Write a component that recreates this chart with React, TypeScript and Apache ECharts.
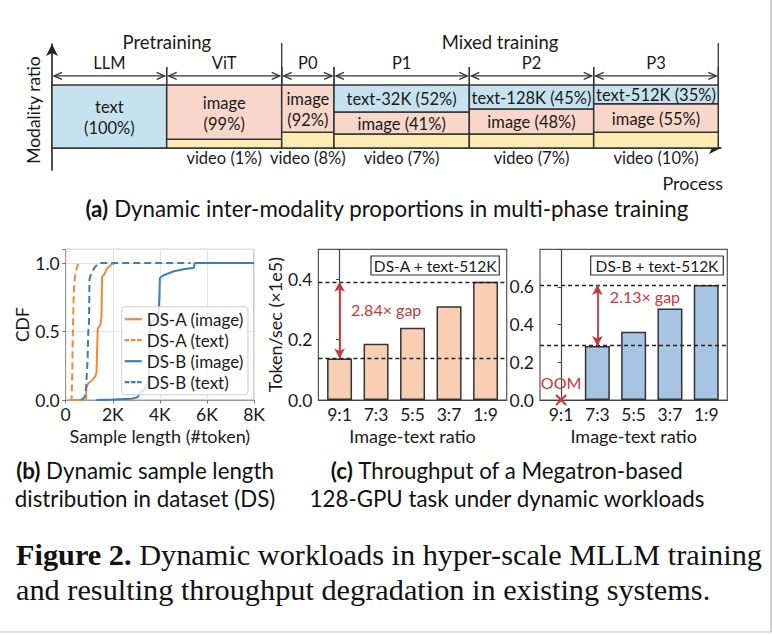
import React, { useEffect, useRef } from 'react';
import * as echarts from 'echarts';

// ---------- Panel (a): multi-phase modality proportions (schematic heights) ----------
const phases = ['LLM', 'ViT', 'P0', 'P1', 'P2', 'P3'];
const phaseWidths = [114.7, 115, 52.3, 135.3, 124.4, 124.6];
const textShare = [100, 0, 0, 43, 38, 30];
const imageShare = [0, 86, 75, 35, 40, 45];
const videoShare = [0, 14, 25, 22, 22, 25];
const textLabels = ['text\n(100%)', '', '', 'text-32K (52%)', 'text-128K (45%)', 'text-512K (35%)'];
const imageLabels = ['', 'image\n(99%)', 'image\n(92%)', 'image (41%)', 'image (48%)', 'image (55%)'];
const videoLabels = ['', 'video (1%)', 'video (8%)', 'video (7%)', 'video (7%)', 'video (10%)'];
const stageNames = ['Pretraining', 'Mixed training'];
const stageFirst = [0, 2];
const stageLast = [1, 5];

// ---------- Panel (b): CDF of sample length ----------
const cdfNames = ['DS-A (image)', 'DS-A (text)', 'DS-B (image)', 'DS-B (text)'];
const dsAImage = [[300, 0], [860, 0], [880, 0.09], [950, 0.12], [1100, 0.14], [1250, 0.17], [1310, 0.2], [1330, 0.33], [1360, 0.52], [1470, 0.55], [1520, 0.6], [1545, 0.9], [1650, 0.92], [1750, 0.96], [1950, 0.99], [2100, 1]];
const dsAText = [[150, 0], [250, 0], [280, 0.2], [300, 0.45], [330, 0.7], [360, 0.85], [420, 0.93], [480, 0.97], [560, 1]];
const dsBImage = [[1300, 0], [2000, 0.003], [2800, 0.01], [3050, 0.02], [3150, 0.05], [3350, 0.08], [3500, 0.13], [3550, 0.25], [3580, 0.5], [3620, 0.56], [3850, 0.6], [3950, 0.65], [3980, 0.75], [4000, 0.89], [4150, 0.91], [4600, 0.94], [5000, 0.955], [5450, 0.965], [5480, 1], [8000, 1]];
const dsBText = [[650, 0], [800, 0.02], [870, 0.1], [930, 0.3], [960, 0.5], [990, 0.56], [1010, 0.88], [1060, 0.91], [1200, 0.96], [1350, 0.99], [1420, 1], [5300, 1]];
const cdfXTicks = ['0', '2K', '4K', '6K', '8K'];

// ---------- Panel (c): throughput ----------
const ratios = ['9:1', '7:3', '5:5', '3:7', '1:9'];
const throughputA = [0.138, 0.187, 0.24, 0.311, 0.392];
const throughputB = [null, 0.286, 0.362, 0.486, 0.61];
const oomIndexB = 0;
const oomText = 'OOM';
const boxA = 'DS-A + text-512K';
const boxB = 'DS-B + text-512K';

const FONT = "Lato, 'Open Sans', sans-serif";
const SERIF = "'Liberation Serif', 'DejaVu Serif', serif";
const INK = '#1a1a1a';
const LINE = '#333';
const C_TEXT = '#c6e2ef';
const C_IMAGE = '#f8d6c9';
const C_VIDEO = '#fcebb3';
const ORANGE = '#ef8a3a';
const BLUE = '#3f7cba';
const PEACH = '#f8cfb3';
const LBLUE = '#a8c6e4';
const RED = '#c8373b';

const ICON_SOLID = 'path://M0,0H17V2.2H0Z';
const ICON_DASH = 'path://M0,0H4.6V2.2H0ZM6.2,0H10.8V2.2H6.2ZM12.4,0H17V2.2H12.4Z';

const starts: number[] = [];
phaseWidths.reduce((acc, w, i) => {
  starts[i] = acc;
  return acc + w;
}, 0);

function textEl(x: number, y: number, text: string, size: number, color = INK, align = 'center', extra: any = {}, rotation = 0) {
  return {
    type: 'text',
    x,
    y,
    rotation,
    style: {
      text,
      fill: color,
      fontSize: size,
      fontFamily: FONT,
      align,
      textAlign: align,
      verticalAlign: 'middle',
      textVerticalAlign: 'middle',
      lineHeight: 21,
      ...extra,
    },
  };
}

function lineEl(x1: number, y1: number, x2: number, y2: number, stroke = LINE, w = 1.4) {
  return { type: 'line', shape: { x1, y1, x2, y2 }, style: { stroke, lineWidth: w } };
}

function renderPhase(params: any, api: any) {
  const i = api.value(0);
  const x0 = starts[i];
  const x1 = x0 + phaseWidths[i];
  const b = api.coord([x0, 0]);
  const px0 = b[0];
  const pyBase = b[1];
  const px1 = api.coord([x1, 0])[0];
  const pyTop = api.coord([x0, 100])[1];
  const cx = (px0 + px1) / 2;
  const children: any[] = [];
  const segs = [
    { h: videoShare[i], fill: C_VIDEO, label: '' },
    { h: imageShare[i], fill: C_IMAGE, label: imageLabels[i] },
    { h: textShare[i], fill: C_TEXT, label: textLabels[i] },
  ];
  let cum = 0;
  for (const s of segs) {
    if (s.h <= 0) continue;
    const yb = api.coord([x0, cum])[1];
    const yt = api.coord([x0, cum + s.h])[1];
    children.push({
      type: 'rect',
      shape: { x: px0, y: yt, width: px1 - px0, height: yb - yt },
      style: { fill: s.fill, stroke: LINE, lineWidth: 1.5 },
    });
    if (s.label) children.push(textEl(cx, (yt + yb) / 2 + 1, s.label, 16.5));
    cum += s.h;
  }
  if (videoLabels[i]) children.push(textEl(cx, pyBase + 10, videoLabels[i], 16.5));
  children.push(textEl(cx, pyTop - 22, phases[i], 16.5));
  // dimension arrow
  const ay = pyTop - 9;
  const a0 = px0 + 2;
  const a1 = px1 - 2;
  children.push(lineEl(a0, ay, a1, ay, LINE, 1.3));
  children.push({ type: 'polyline', shape: { points: [[a0 + 8, ay - 3.5], [a0, ay], [a0 + 8, ay + 3.5]] }, style: { stroke: LINE, lineWidth: 1.3, fill: 'none' } });
  children.push({ type: 'polyline', shape: { points: [[a1 - 8, ay - 3.5], [a1, ay], [a1 - 8, ay + 3.5]] }, style: { stroke: LINE, lineWidth: 1.3, fill: 'none' } });
  if (i > 0) children.push(lineEl(px0, pyTop - 18, px0, pyTop, LINE, 1.3));
  children.push(lineEl(px1, pyTop - 18, px1, pyTop, LINE, 1.3));
  return { type: 'group', children };
}

function renderStage(params: any, api: any) {
  const g = api.value(0);
  const x0 = starts[stageFirst[g]];
  const x1 = starts[stageLast[g]] + phaseWidths[stageLast[g]];
  const px0 = api.coord([x0, 0])[0];
  const px1 = api.coord([x1, 0])[0];
  const pyTop = api.coord([x0, 100])[1];
  return {
    type: 'group',
    children: [
      textEl((px0 + px1) / 2, pyTop - 43, stageNames[g], 18.5),
      lineEl(px1, pyTop - 42, px1, pyTop, LINE, 1.3),
    ],
  };
}

function renderOOM(params: any, api: any) {
  const p = api.coord([api.value(0), api.value(1)]);
  const s = 5;
  return {
    type: 'group',
    children: [
      lineEl(p[0] - s, p[1] - s, p[0] + s, p[1] + s, RED, 2),
      lineEl(p[0] - s, p[1] + s, p[0] + s, p[1] - s, RED, 2),
      textEl(p[0], p[1] - 18, oomText, 16, RED),
    ],
  };
}

function ratioLabel(v: number) {
  const r = Math.round(v);
  return Math.abs(v - r) < 1e-6 && ratios[r] ? ratios[r] : '';
}

function buildOption(): any {
  const maxA = Math.max(...throughputA);
  const minA = Math.min(...throughputA);
  const validB = throughputB.filter((v) => v != null) as number[];
  const maxB = Math.max(...validB);
  const minB = Math.min(...validB);
  const gapA = (maxA / minA).toFixed(2) + '× gap';
  const gapB = (maxB / minB).toFixed(2) + '× gap';
  const firstB = throughputB.findIndex((v) => v != null);

  const tickLabel = { fontSize: 17.5, color: INK, fontFamily: FONT };
  const nameStyle = { fontSize: 18, color: INK, fontFamily: FONT };

  const barMarkLine = (mx: number, mn: number, xi: number) => ({
    silent: true,
    symbol: 'none',
    label: { show: false },
    lineStyle: { color: '#222', type: [4, 3], width: 1.3 },
    data: [
      { yAxis: mx },
      { yAxis: mn },
      [
        { coord: [xi, mx], symbol: 'arrow', symbolSize: [8, 10], lineStyle: { color: RED, type: 'solid', width: 1.8 } },
        { coord: [xi, mn], symbol: 'arrow', symbolSize: [8, 10] },
      ],
    ],
  });

  const caption = (x: number, y: number, text: string, align: string, size: number, lh: number, family: string) => ({
    type: 'text', x, y,
    style: {
      text, fill: '#111', fontSize: size, fontFamily: family, lineHeight: lh,
      align, verticalAlign: 'middle', textAlign: align, textVerticalAlign: 'middle',
      rich: { b: { fontWeight: 'bold', fontSize: size, fontFamily: family, fill: '#111', lineHeight: lh } },
    },
  });

  return {
    animation: false,
    backgroundColor: '#ffffff',
    textStyle: { fontFamily: FONT },
    grid: [
      { left: 52, top: 44, width: 669, height: 126 },
      { left: 65.7, top: 249.3, width: 188.3, height: 150.7, show: true, borderColor: '#9a9a9a', borderWidth: 1 },
      { left: 318.4, top: 249.3, width: 188.3, height: 150.7, show: true, borderColor: '#555', borderWidth: 1.2 },
      { left: 540, top: 249.3, width: 187.3, height: 150.7, show: true, borderColor: '#555', borderWidth: 1.2 },
    ],
    xAxis: [
      {
        type: 'value', gridIndex: 0, min: 0, max: 669,
        axisLine: { show: true, symbol: ['none', 'arrow'], symbolSize: [9, 12], lineStyle: { color: '#222', width: 1.6 } },
        axisTick: { show: false }, axisLabel: { show: false }, splitLine: { show: false },
      },
      {
        type: 'value', gridIndex: 1, min: 0, max: 8000, interval: 2000,
        axisLine: { lineStyle: { color: '#9a9a9a' } },
        axisTick: { show: true, length: 3.5, lineStyle: { color: '#777' } },
        axisLabel: { ...tickLabel, margin: 5, formatter: (v: number) => cdfXTicks[Math.round(v / 2000)] ?? '' },
        splitLine: { show: true, lineStyle: { color: '#e3e3e3' } },
        name: 'Sample length (#token)', nameLocation: 'middle', nameGap: 27, nameTextStyle: nameStyle,
      },
      {
        type: 'value', gridIndex: 2, min: -0.58, max: 4.58,
        axisLine: { lineStyle: { color: '#444', width: 1.2 } },
        axisTick: { show: false },
        axisLabel: { ...tickLabel, margin: 5, formatter: ratioLabel },
        splitLine: { show: false },
        name: 'Image-text ratio', nameLocation: 'middle', nameGap: 27, nameTextStyle: nameStyle,
      },
      {
        type: 'value', gridIndex: 3, min: -0.58, max: 4.58,
        axisLine: { lineStyle: { color: '#444', width: 1.2 } },
        axisTick: { show: false },
        axisLabel: { ...tickLabel, margin: 5, formatter: ratioLabel },
        splitLine: { show: false },
        name: 'Image-text ratio', nameLocation: 'middle', nameGap: 27, nameTextStyle: nameStyle,
      },
    ],
    yAxis: [
      {
        type: 'value', gridIndex: 0, min: -35, max: 165,
        axisLine: { show: true, symbol: ['none', 'arrow'], symbolSize: [9, 12], lineStyle: { color: '#222', width: 1.6 } },
        axisTick: { show: false }, axisLabel: { show: false }, splitLine: { show: false },
      },
      {
        type: 'value', gridIndex: 1, min: 0, max: 1.1, interval: 0.5,
        axisLine: { show: true, lineStyle: { color: '#9a9a9a' } },
        axisTick: { show: true, length: 3.5, lineStyle: { color: '#777' } },
        axisLabel: { ...tickLabel, margin: 6, formatter: (v: number) => (v > 1.05 ? '' : v.toFixed(1)) },
        splitLine: { show: true, lineStyle: { color: '#e3e3e3' } },
        name: 'CDF', nameLocation: 'middle', nameGap: 30, nameTextStyle: { ...nameStyle, fontSize: 17.5 },
      },
      {
        type: 'value', gridIndex: 2, min: 0, max: 0.5, interval: 0.2,
        axisLine: { show: true, lineStyle: { color: '#444', width: 1.2 } },
        axisTick: { show: true, length: 3.5, lineStyle: { color: '#444' } },
        axisLabel: { ...tickLabel, margin: 6, formatter: (v: number) => (v > 0.45 ? '' : v.toFixed(1)) },
        splitLine: { show: false },
        name: 'Token/sec (×1e5)', nameLocation: 'middle', nameGap: 30, nameTextStyle: nameStyle,
      },
      {
        type: 'value', gridIndex: 3, min: 0, max: 0.8, interval: 0.2,
        axisLine: { show: true, lineStyle: { color: '#444', width: 1.2 } },
        axisTick: { show: true, length: 3.5, lineStyle: { color: '#444' } },
        axisLabel: { ...tickLabel, margin: 6, formatter: (v: number) => (v > 0.7 ? '' : v.toFixed(1)) },
        splitLine: { show: false },
      },
    ],
    legend: {
      orient: 'vertical',
      left: 121.7,
      top: 306.7,
      padding: [4, 4, 4, 3],
      itemGap: 4,
      itemWidth: 17,
      itemHeight: 16,
      borderColor: '#cfcfcf',
      borderWidth: 1,
      borderRadius: 3,
      backgroundColor: 'rgba(255,255,255,0.8)',
      textStyle: { fontSize: 17, color: INK, fontFamily: FONT },
      data: [
        { name: cdfNames[0], icon: ICON_SOLID },
        { name: cdfNames[1], icon: ICON_DASH },
        { name: cdfNames[2], icon: ICON_SOLID },
        { name: cdfNames[3], icon: ICON_DASH },
      ],
    },
    series: [
      {
        type: 'custom', name: 'phases', xAxisIndex: 0, yAxisIndex: 0, clip: false, silent: true,
        renderItem: renderPhase,
        data: phases.map((_, i) => [i, 50]),
      },
      {
        type: 'custom', name: 'stages', xAxisIndex: 0, yAxisIndex: 0, clip: false, silent: true,
        renderItem: renderStage,
        data: stageNames.map((_, i) => [i, 50]),
      },
      { type: 'line', name: cdfNames[0], xAxisIndex: 1, yAxisIndex: 1, data: dsAImage, symbol: 'none', lineStyle: { color: ORANGE, width: 2 }, itemStyle: { color: ORANGE } },
      { type: 'line', name: cdfNames[1], xAxisIndex: 1, yAxisIndex: 1, data: dsAText, symbol: 'none', lineStyle: { color: ORANGE, width: 2, type: [7, 4] }, itemStyle: { color: ORANGE } },
      { type: 'line', name: cdfNames[2], xAxisIndex: 1, yAxisIndex: 1, data: dsBImage, symbol: 'none', lineStyle: { color: BLUE, width: 2 }, itemStyle: { color: BLUE } },
      { type: 'line', name: cdfNames[3], xAxisIndex: 1, yAxisIndex: 1, data: dsBText, symbol: 'none', lineStyle: { color: BLUE, width: 2, type: [7, 4] }, itemStyle: { color: BLUE } },
      {
        type: 'bar', name: 'A', xAxisIndex: 2, yAxisIndex: 2, barWidth: 25,
        data: throughputA.map((v, i) => [i, v]),
        itemStyle: { color: PEACH, borderColor: LINE, borderWidth: 1.5 },
        markLine: barMarkLine(maxA, minA, 0),
        markPoint: {
          symbol: 'circle', symbolSize: 1, itemStyle: { color: 'rgba(0,0,0,0)' },
          label: { show: true, position: 'right', distance: 11, formatter: gapA, color: RED, fontSize: 16, fontFamily: FONT },
          data: [{ coord: [0, minA + 0.645 * (maxA - minA)] }],
        },
      },
      {
        type: 'bar', name: 'B', xAxisIndex: 3, yAxisIndex: 3, barWidth: 25,
        data: throughputB.map((v, i) => [i, v]),
        itemStyle: { color: LBLUE, borderColor: LINE, borderWidth: 1.5 },
        markLine: barMarkLine(maxB, minB, firstB),
        markPoint: {
          symbol: 'circle', symbolSize: 1, itemStyle: { color: 'rgba(0,0,0,0)' },
          label: { show: true, position: 'right', distance: 12, formatter: gapB, color: RED, fontSize: 16, fontFamily: FONT },
          data: [{ coord: [firstB, minB + 0.82 * (maxB - minB)] }],
        },
      },
      {
        type: 'custom', name: 'OOM', xAxisIndex: 3, yAxisIndex: 3, clip: false, silent: true,
        renderItem: renderOOM,
        data: [[oomIndexB, 0]],
      },
    ],
    graphic: [
      textEl(33, 110, 'Modality ratio', 17.5, INK, 'center', {}, Math.PI / 2),
      textEl(723, 183, 'Process', 18, INK, 'right'),
      {
        type: 'group',
        children: [
          { type: 'rect', shape: { x: 371, y: 256, width: 128.3, height: 19 }, style: { fill: '#fff', stroke: LINE, lineWidth: 1.2 } },
          textEl(435.2, 266, boxA, 15.5),
          { type: 'rect', shape: { x: 590.7, y: 256, width: 132.6, height: 19 }, style: { fill: '#fff', stroke: LINE, lineWidth: 1.2 } },
          textEl(657, 266, boxB, 15.5),
        ],
      },
      caption(387, 208, '{b|(a)} Dynamic inter-modality proportions in multi-phase training', 'center', 22.3, 28, FONT),
      caption(145, 484, '{b|(b)} Dynamic sample length\ndistribution in dataset (DS)', 'center', 22.3, 28, FONT),
      caption(507, 484, '{b|(c)} Throughput of a Megatron-based\n128-GPU task under dynamic workloads', 'center', 22.3, 28, FONT),
      caption(16, 572, '{b|Figure 2.} Dynamic workloads in hyper-scale MLLM training\nand resulting throughput degradation in existing systems.', 'left', 30.3, 35, SERIF),
      { type: 'line', shape: { x1: 771, y1: 0, x2: 771, y2: 632 }, style: { stroke: '#bdbdbd', lineWidth: 1.2 } },
      { type: 'line', shape: { x1: 0, y1: 632, x2: 771, y2: 632 }, style: { stroke: '#bdbdbd', lineWidth: 1.2 } },
    ],
  };
}

export default function App() {
  const ref = useRef<HTMLDivElement>(null);
  useEffect(() => {
    if (!ref.current) return;
    const chart = echarts.init(ref.current, null, { renderer: 'svg' });
    chart.setOption(buildOption());
    return () => chart.dispose();
  }, []);
  return <div ref={ref} style={{ position: 'fixed', left: 0, top: 0, width: 772, height: 635, background: '#fff' }} />;
}
